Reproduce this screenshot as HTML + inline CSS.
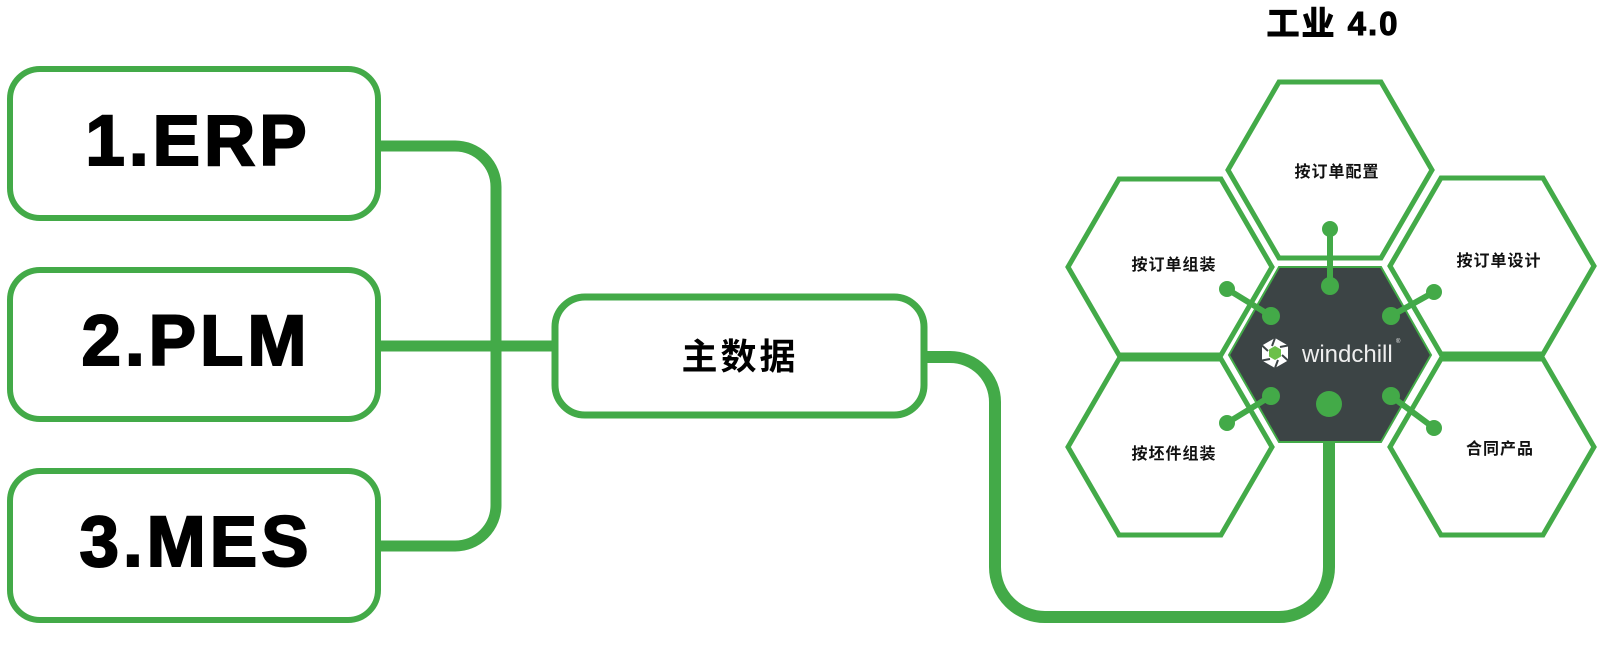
<!DOCTYPE html>
<html><head><meta charset="utf-8"><style>
html,body{margin:0;padding:0;background:#fff;width:1600px;height:651px;overflow:hidden}
svg{display:block}
</style></head><body>
<svg width="1600" height="651" viewBox="0 0 1600 651" xmlns="http://www.w3.org/2000/svg">
<g fill="none" stroke="#43aa48">
 <path d="M381,146 H455 A41,41 0 0 1 496,187 V505 A41,41 0 0 1 455,546 H381" stroke-width="11"/>
 <path d="M381,346 H553" stroke-width="11"/>
 <path d="M926,357 H950 A45,45 0 0 1 995,402 V567 A50,50 0 0 0 1045,617 H1279 A50,50 0 0 0 1329,567 V404" stroke-width="12"/>
 <rect x="10" y="69" width="368" height="149" rx="30" stroke-width="6" fill="#fff"/>
 <rect x="10" y="270" width="368" height="149" rx="30" stroke-width="6" fill="#fff"/>
 <rect x="10" y="471" width="368" height="149" rx="30" stroke-width="6" fill="#fff"/>
 <rect x="555" y="297" width="369" height="118" rx="30" stroke-width="7" fill="#fff"/>
</g>
<g font-family="'Liberation Sans',sans-serif" font-weight="bold" font-size="71" text-anchor="middle" fill="#000" stroke="#000" stroke-width="2" letter-spacing="4">
 <text x="198" y="165">1.ERP</text>
 <text x="196" y="365">2.PLM</text>
 <text x="196" y="566">3.MES</text>
</g>
<text x="740" y="369" font-family="'Liberation Sans','Noto Sans CJK SC',sans-serif" font-weight="bold" font-size="36" text-anchor="middle" letter-spacing="3">主数据</text>
<text x="1333" y="35" font-family="'Liberation Sans','Noto Sans CJK SC',sans-serif" font-weight="bold" font-size="33" text-anchor="middle" stroke="#000" stroke-width="1" letter-spacing="2">工业 4.0</text>

<g fill="#fff" stroke="#43aa48" stroke-width="5">
 <polygon points="1228,170 1279,82 1381,82 1432,170 1381,258 1279,258"/>
 <polygon points="1068,267 1119,179 1221,179 1272,267 1221,355 1119,355"/>
 <polygon points="1068,447 1119,359 1221,359 1272,447 1221,535 1119,535"/>
 <polygon points="1390,266 1441,178 1543,178 1594,266 1543,354 1441,354"/>
 <polygon points="1390,447 1441,359 1543,359 1594,447 1543,535 1441,535"/>
</g>
<polygon points="1229,355 1279,267 1381,267 1431,355 1381,442 1279,442" fill="#3c4445" stroke="#43aa48" stroke-width="2"/>

<g stroke="#43aa48" stroke-width="6" fill="#43aa48">
 <line x1="1330" y1="286" x2="1330" y2="229"/>
 <line x1="1271" y1="316" x2="1227" y2="289"/>
 <line x1="1391" y1="316" x2="1434" y2="292"/>
 <line x1="1271" y1="396" x2="1227" y2="423"/>
 <line x1="1391" y1="396" x2="1434" y2="428"/>
</g>
<g fill="#43aa48">
 <circle cx="1330" cy="286" r="9"/><circle cx="1330" cy="229" r="8"/>
 <circle cx="1271" cy="316" r="9"/><circle cx="1227" cy="289" r="8"/>
 <circle cx="1391" cy="316" r="9"/><circle cx="1434" cy="292" r="8"/>
 <circle cx="1271" cy="396" r="9"/><circle cx="1227" cy="423" r="8"/>
 <circle cx="1391" cy="396" r="9"/><circle cx="1434" cy="428" r="8"/>
 <circle cx="1329" cy="404" r="13"/>
</g>

<g transform="translate(1275,353)">
 <polygon points="-13,-7.5 0,-15 13,-7.5 13,7.5 0,15 -13,7.5" fill="#fff"/>
 <polygon points="-6,-3.5 0,-7 6,-3.5 6,3.5 0,7 -6,3.5" fill="#6cc04a"/>
 <path d="M0,-15 L-3,-7 M13,-7.5 L5,-6 M13,7.5 L7,2 M0,15 L3,7 M-13,7.5 L-5,6 M-13,-7.5 L-7,-2" stroke="#3c4445" stroke-width="2"/>
</g>
<text x="1302" y="362" font-family="'Liberation Sans',sans-serif" font-size="24" fill="#eee">windchill</text>
<text x="1396" y="343" font-family="'Liberation Sans',sans-serif" font-size="6" fill="#eee">®</text>

<g font-family="'Liberation Sans','Noto Sans CJK SC',sans-serif" font-weight="bold" font-size="16" text-anchor="middle" fill="#111" letter-spacing="1">
 <text x="1337" y="177">按订单配置</text>
 <text x="1174" y="270">按订单组装</text>
 <text x="1499" y="266">按订单设计</text>
 <text x="1174" y="459">按坯件组装</text>
 <text x="1500" y="454">合同产品</text>
</g>
</svg>
</body></html>
